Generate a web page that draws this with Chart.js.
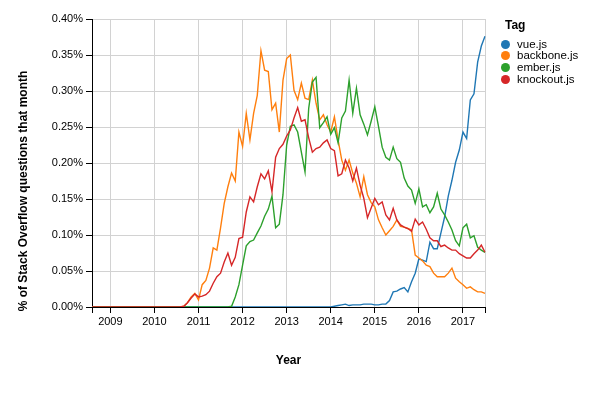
<!DOCTYPE html>
<html>
<head>
<meta charset="utf-8">
<script src="https://cdn.jsdelivr.net/npm/chart.js@4/dist/chart.umd.min.js"></script>
<style>
html,body{margin:0;padding:0;background:#fff;}
#wrap{position:relative;width:600px;height:405px;}
#chart{position:absolute;left:0;top:0;}
.lg{position:absolute;font-family:"Liberation Sans",Arial,sans-serif;color:#000;white-space:nowrap;}
.lgt{font-size:12px;font-weight:bold;line-height:14px;}
.lgi{font-size:11.5px;line-height:12px;}
.dot{position:absolute;width:9px;height:9px;border-radius:50%;}
</style>
</head>
<body>
<div id="wrap">
<canvas id="chart" width="600" height="405"></canvas>
<div id="legend"></div>
</div>
<script>
// Monthly categories, Aug 2008 – Jul 2017
const months = [
 "2008-08","2008-09","2008-10","2008-11","2008-12",
 "2009-01","2009-02","2009-03","2009-04","2009-05","2009-06","2009-07","2009-08","2009-09","2009-10","2009-11","2009-12",
 "2010-01","2010-02","2010-03","2010-04","2010-05","2010-06","2010-07","2010-08","2010-09","2010-10","2010-11","2010-12",
 "2011-01","2011-02","2011-03","2011-04","2011-05","2011-06","2011-07","2011-08","2011-09","2011-10","2011-11","2011-12",
 "2012-01","2012-02","2012-03","2012-04","2012-05","2012-06","2012-07","2012-08","2012-09","2012-10","2012-11","2012-12",
 "2013-01","2013-02","2013-03","2013-04","2013-05","2013-06","2013-07","2013-08","2013-09","2013-10","2013-11","2013-12",
 "2014-01","2014-02","2014-03","2014-04","2014-05","2014-06","2014-07","2014-08","2014-09","2014-10","2014-11","2014-12",
 "2015-01","2015-02","2015-03","2015-04","2015-05","2015-06","2015-07","2015-08","2015-09","2015-10","2015-11","2015-12",
 "2016-01","2016-02","2016-03","2016-04","2016-05","2016-06","2016-07","2016-08","2016-09","2016-10","2016-11","2016-12",
 "2017-01","2017-02","2017-03","2017-04","2017-05","2017-06","2017-07"
];

const tagNames = ["vue.js","backbone.js","ember.js","knockout.js"];
const tagColors = ["#1f77b4","#ff7f0e","#2ca02c","#d62728"];

// % of Stack Overflow questions that month
const vue = [
 0,0,0,0,0,
 0,0,0,0,0,0,0,0,0,0,0,0,
 0,0,0,0,0,0,0,0,0,0,0,0,
 0,0,0,0,0,0,0,0,0,0,0,0,
 0,0,0,0,0,0,0,0,0,0,0,0,
 0,0,0,0,0,0,0,0,0,0,0,0,
 0,0.001,0.002,0.003,0.004,0.002,0.003,0.003,0.003,0.004,0.004,0.004,
 0.003,0.003,0.004,0.004,0.009,0.021,0.022,0.025,0.027,0.021,0.035,0.047,
 0.067,0.065,0.063,0.090,0.081,0.081,0.103,0.125,0.154,0.176,0.201,0.218,
 0.243,0.234,0.2875,0.296,0.340,0.3625,0.376
];
const backbone = [
 0,0,0,0,0,
 0,0,0,0,0,0,0,0,0,0,0,0,
 0,0,0,0,0,0,0,0,0.001,0.006,0.014,0.019,
 0.010,0.031,0.037,0.054,0.082,0.079,0.110,0.144,0.167,0.186,0.175,0.243,
 0.223,0.269,0.232,0.269,0.294,0.356,0.329,0.327,0.274,0.283,0.243,0.315,
 0.345,0.350,0.301,0.288,0.311,0.290,0.288,0.315,0.283,0.260,0.267,0.253,
 0.243,0.264,0.232,0.204,0.190,0.204,0.186,0.172,0.153,0.181,0.156,0.145,
 0.139,0.121,0.110,0.100,0.106,0.112,0.121,0.112,0.111,0.109,0.107,0.072,
 0.068,0.064,0.058,0.056,0.047,0.042,0.042,0.042,0.047,0.054,0.040,0.035,
 0.031,0.026,0.028,0.024,0.021,0.021,0.019
];
const ember = [
 0,0,0,0,0,
 0,0,0,0,0,0,0,0,0,0,0,0,
 0,0,0,0,0,0,0,0,0,0,0,0,
 0,0,0,0,0,0,0,0,0,0.001,0.014,0.031,
 0.058,0.085,0.091,0.093,0.103,0.1125,0.126,0.136,0.154,0.110,0.115,0.156,
 0.225,0.251,0.253,0.243,0.215,0.1875,0.276,0.3125,0.319,0.249,0.256,0.264,
 0.240,0.249,0.228,0.2625,0.272,0.315,0.269,0.304,0.267,0.254,0.239,0.258,
 0.278,0.251,0.222,0.208,0.204,0.222,0.206,0.201,0.179,0.168,0.1625,0.144,
 0.164,0.139,0.142,0.131,0.139,0.158,0.136,0.128,0.118,0.107,0.092,0.085,
 0.110,0.115,0.096,0.099,0.083,0.079,0.076
];
const knockout = [
 0,0,0,0,0,
 0,0,0,0,0,0,0,0,0,0,0,0,
 0,0,0,0,0,0,0,0,0.001,0.006,0.0125,0.018,
 0.014,0.015,0.017,0.022,0.033,0.042,0.047,0.0625,0.075,0.058,0.069,0.095,
 0.097,0.132,0.153,0.146,0.167,0.185,0.178,0.189,0.160,0.208,0.220,0.226,
 0.2375,0.246,0.2625,0.277,0.258,0.260,0.235,0.215,0.220,0.222,0.228,0.232,
 0.220,0.217,0.182,0.185,0.204,0.193,0.175,0.193,0.169,0.151,0.124,0.1375,
 0.151,0.142,0.146,0.128,0.121,0.137,0.121,0.114,0.111,0.109,0.105,0.122,
 0.114,0.118,0.108,0.096,0.092,0.092,0.084,0.086,0.082,0.079,0.079,0.074,
 0.071,0.068,0.068,0.074,0.079,0.086,0.076
];

const xTitle = "Year";
const yTitle = "% of Stack Overflow questions that month";
const legendTitle = "Tag";

const FONT = '"Liberation Sans", Arial, Helvetica, sans-serif';
Chart.defaults.font.family = FONT;
Chart.defaults.color = '#000';

const series = [vue, backbone, ember, knockout];
const datasets = series.map((d, i) => ({
  label: tagNames[i],
  data: d,
  borderColor: tagColors[i],
  backgroundColor: tagColors[i],
  borderWidth: 1.4,
  pointRadius: 0,
  tension: 0,
  fill: false,
  order: series.length - i
}));

const yTitlePlugin = {
  id: 'yTitlePlugin',
  afterDraw(chart) {
    const c = chart.ctx;
    c.save();
    c.translate(24, 191);
    c.rotate(-Math.PI / 2);
    c.font = 'bold 12px ' + FONT;
    c.fillStyle = '#000';
    c.textAlign = 'center';
    c.textBaseline = 'middle';
    c.fillText(yTitle, 0, 0);
    c.restore();
  }
};

const lastIdx = months.length - 1;

new Chart(document.getElementById('chart'), {
  type: 'line',
  data: { labels: months, datasets },
  options: {
    responsive: false,
    animation: false,
    devicePixelRatio: 1,
    layout: { padding: { left: 0, top: 19, right: 115, bottom: 0 } },
    plugins: { legend: { display: false }, tooltip: { enabled: false } },
    scales: {
      x: {
        type: 'category',
        offset: false,
        grid: {
          color: (ctx) => (ctx.index === lastIdx ? '#000' : '#d2d2d2'),
          lineWidth: (ctx) => (ctx.index === lastIdx ? 1.5 : 1),
          tickColor: '#000',
          tickLength: 6
        },
        border: { color: '#000', width: 1 },
        ticks: {
          autoSkip: false,
          maxRotation: 0,
          minRotation: 0,
          padding: 2,
          font: { size: 11 },
          color: '#000',
          callback: function (v, i) {
            const lab = this.getLabelForValue(v);
            if (i === 0 || i === lastIdx) return '';
            if (lab.endsWith('-01')) return lab.slice(0, 4);
            return null;
          }
        },
        title: {
          display: true,
          text: xTitle,
          font: { size: 12, weight: 'bold' },
          color: '#000',
          padding: { top: 0, bottom: 37 }
        },
        afterFit(s) { s.height = 98; }
      },
      y: {
        min: 0,
        max: 0.4,
        grid: { color: '#d2d2d2', tickColor: '#000', tickLength: 6 },
        border: { color: '#000', width: 1 },
        ticks: {
          stepSize: 0.05,
          padding: 3,
          font: { size: 11 },
          color: '#000',
          callback: (v) => Number(v).toFixed(2) + '%'
        },
        afterFit(s) { s.width = 92; }
      }
    }
  },
  plugins: [yTitlePlugin]
});

// Legend (HTML, built from the series names/colours)
const lg = document.getElementById('legend');
const t = document.createElement('div');
t.className = 'lg lgt';
t.style.left = '505px';
t.style.top = '18px';
t.textContent = legendTitle;
lg.appendChild(t);
tagNames.forEach((name, i) => {
  const cy = 44 + i * 11.7;
  const dot = document.createElement('div');
  dot.className = 'dot';
  dot.style.left = (505 - 4.5) + 'px';
  dot.style.top = (cy - 4.5) + 'px';
  dot.style.background = tagColors[i];
  lg.appendChild(dot);
  const s = document.createElement('div');
  s.className = 'lg lgi';
  s.style.left = '517px';
  s.style.top = (cy - 6.5) + 'px';
  s.textContent = name;
  lg.appendChild(s);
});
</script>
</body>
</html>
